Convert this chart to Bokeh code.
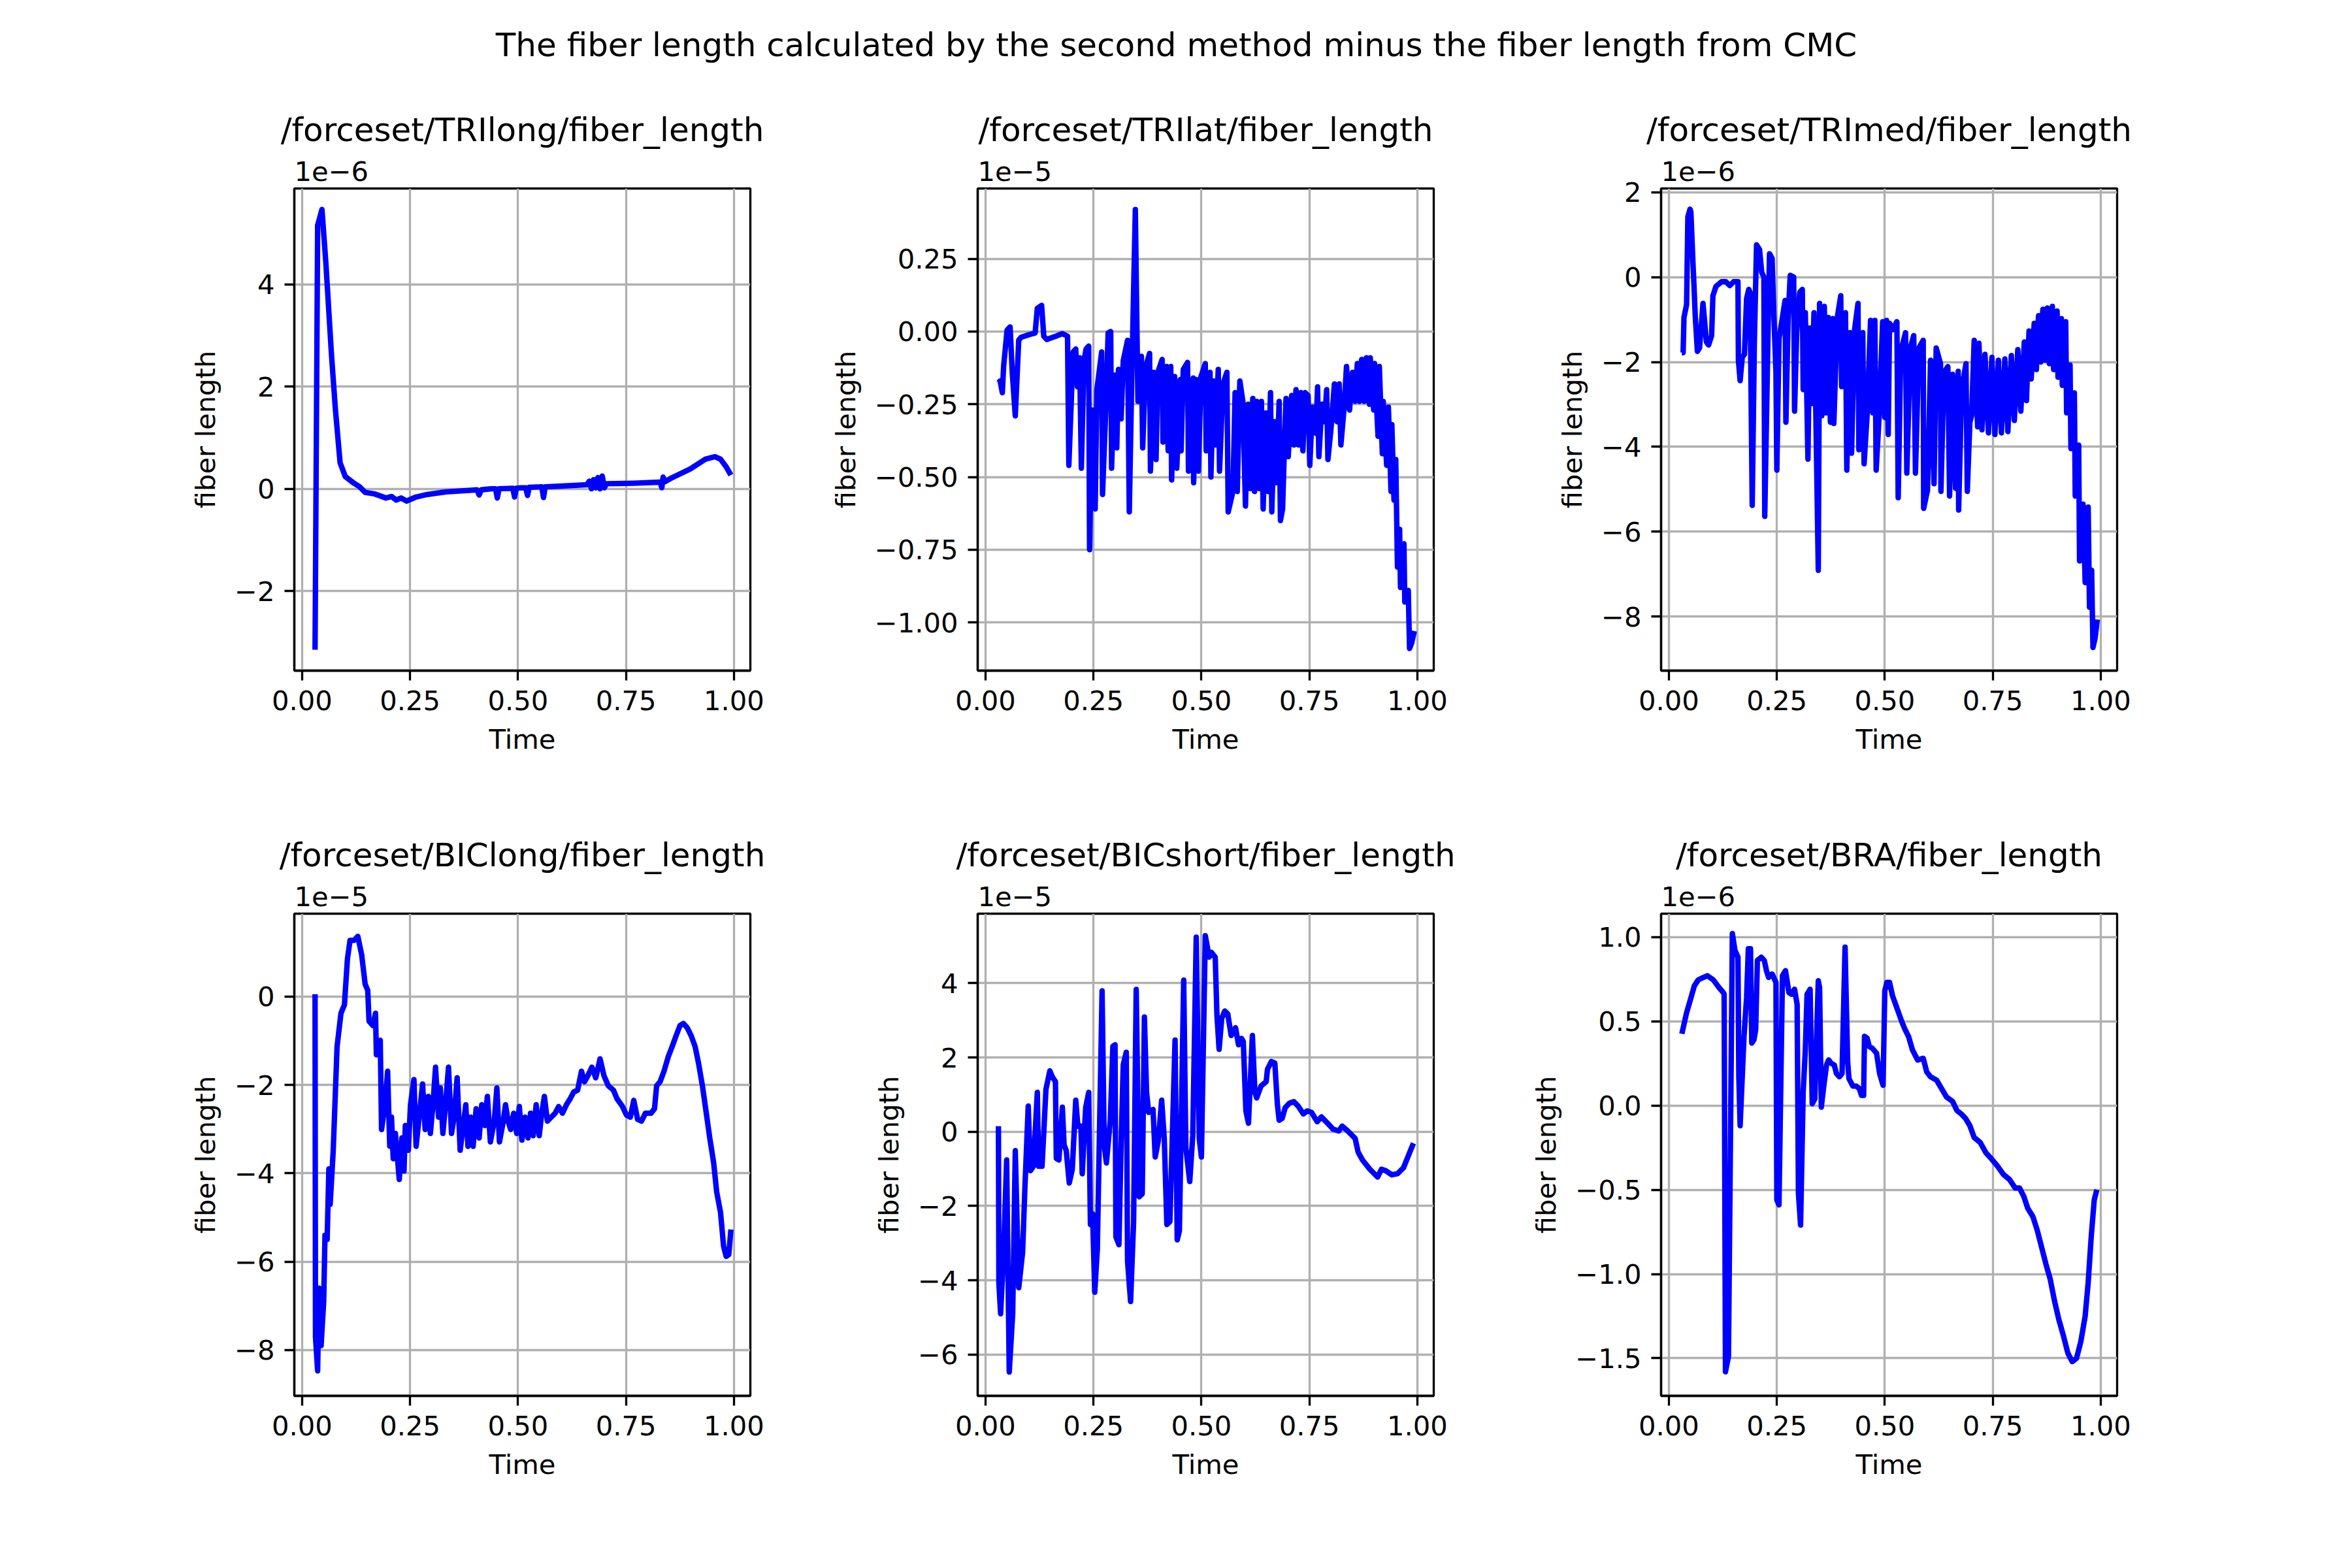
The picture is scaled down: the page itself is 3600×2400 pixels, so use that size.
from bokeh.plotting import figure
from bokeh.models import Label, Title, FixedTicker, Range1d, CustomJSTickFormatter
from bokeh.layouts import column, row
from bokeh.embed import file_html
from bokeh.resources import INLINE

SUPTITLE = "The fiber length calculated by the second method minus the fiber length from CMC"

# ---------------- data (values in units of the panel's scale) ----------------
tri_long_t = [0.030, 0.036, 0.046, 0.055, 0.068, 0.077, 0.088, 0.100, 0.120, 0.133, 0.146, 0.168, 0.194, 0.207,
              0.218, 0.229, 0.242, 0.264, 0.290, 0.333, 0.386, 0.405, 0.410, 0.415, 0.438, 0.448, 0.452, 0.456,
              0.488, 0.492, 0.496, 0.507, 0.518, 0.522, 0.526, 0.555, 0.559, 0.563, 0.594, 0.640, 0.660, 0.665,
              0.670, 0.675, 0.680, 0.685, 0.690, 0.695, 0.700, 0.705, 0.768, 0.829, 0.833, 0.836, 0.840, 0.855,
              0.899, 0.934, 0.956, 0.969, 0.982, 0.993]
tri_long_v = [-3.15, 5.16, 5.47, 4.43, 2.63, 1.57, 0.51, 0.24, 0.11, 0.04, -0.07, -0.10, -0.18, -0.15,
              -0.22, -0.18, -0.24, -0.16, -0.11, -0.06, -0.03, -0.02, -0.12, -0.02, 0.0, 0.0, -0.18, 0.0,
              0.01, -0.16, 0.01, 0.02, 0.02, -0.13, 0.03, 0.04, -0.17, 0.04, 0.05, 0.07, 0.08, 0.15,
              0.0, 0.18, 0.02, 0.22, 0.0, 0.25, 0.02, 0.10, 0.11, 0.13, 0.02, 0.23, 0.14, 0.21,
              0.39, 0.58, 0.63, 0.58, 0.43, 0.27]

tri_lat_t = [0.030, 0.034, 0.039, 0.042, 0.050, 0.057, 0.062, 0.069, 0.077, 0.082, 0.102, 0.115, 0.120, 0.130,
             0.135, 0.142, 0.163, 0.178, 0.190, 0.193, 0.203, 0.209, 0.213, 0.218, 0.222, 0.228, 0.233, 0.239,
             0.241, 0.247, 0.254, 0.258, 0.264, 0.269, 0.271, 0.279, 0.284, 0.290, 0.292, 0.299, 0.304, 0.308,
             0.314, 0.319, 0.329, 0.333, 0.339, 0.347, 0.353, 0.361, 0.364, 0.371, 0.380, 0.382, 0.389, 0.395,
             0.399, 0.409, 0.411, 0.419, 0.423, 0.429, 0.431, 0.438, 0.443, 0.451, 0.453, 0.458, 0.468, 0.470,
             0.475, 0.481, 0.482, 0.488, 0.493, 0.499, 0.509, 0.511, 0.520, 0.522, 0.528, 0.532, 0.539, 0.542,
             0.550, 0.559, 0.562, 0.573, 0.578, 0.583, 0.589, 0.596, 0.602, 0.608, 0.613, 0.619, 0.623, 0.628,
             0.634, 0.639, 0.643, 0.649, 0.654, 0.660, 0.663, 0.669, 0.674, 0.680, 0.683, 0.688, 0.693, 0.696,
             0.701, 0.709, 0.714, 0.719, 0.725, 0.730, 0.735, 0.740, 0.747, 0.751, 0.757, 0.765, 0.769, 0.772,
             0.779, 0.785, 0.790, 0.793, 0.800, 0.808, 0.814, 0.819, 0.823, 0.830, 0.836, 0.843, 0.850, 0.856,
             0.861, 0.866, 0.871, 0.877, 0.882, 0.889, 0.891, 0.899, 0.901, 0.909, 0.912, 0.919, 0.921, 0.929,
             0.933, 0.939, 0.941, 0.946, 0.950, 0.954, 0.959, 0.961, 0.969, 0.971, 0.979, 0.982, 0.987, 0.993]
tri_lat_v = [-0.176, -0.17, -0.21, -0.12, 0.005, 0.016, -0.14, -0.29, -0.03, -0.02, -0.01, -0.005, 0.08, 0.09,
             -0.016, -0.027, -0.016, -0.007, -0.016, -0.46, -0.07, -0.06, -0.19, -0.09, -0.47, -0.10, -0.06, -0.05,
             -0.75, -0.27, -0.61, -0.20, -0.13, -0.07, -0.56, -0.25, -0.005, 0.0, -0.47, -0.15, -0.40, -0.13,
             -0.30, -0.10, -0.03, -0.62, -0.14, 0.42, -0.24, -0.085, -0.40, -0.12, -0.075, -0.48, -0.14, -0.44,
             -0.14, -0.096, -0.38, -0.12, -0.41, -0.12, -0.51, -0.155, -0.47, -0.165, -0.41, -0.13, -0.106, -0.48,
             -0.335, -0.16, -0.52, -0.165, -0.48, -0.155, -0.11, -0.41, -0.14, -0.50, -0.17, -0.39, -0.13, -0.48,
             -0.18, -0.14, -0.62, -0.55, -0.21, -0.55, -0.17, -0.24, -0.60, -0.25, -0.54, -0.23, -0.55, -0.24,
             -0.54, -0.24, -0.61, -0.28, -0.55, -0.21, -0.62, -0.31, -0.52, -0.24, -0.65, -0.61, -0.36, -0.23,
             -0.43, -0.22, -0.39, -0.20, -0.39, -0.21, -0.41, -0.21, -0.22, -0.46, -0.26, -0.35, -0.19, -0.43,
             -0.25, -0.31, -0.20, -0.44, -0.335, -0.18, -0.31, -0.18, -0.39, -0.27, -0.12, -0.27, -0.14, -0.24,
             -0.11, -0.24, -0.096, -0.24, -0.09, -0.25, -0.09, -0.27, -0.11, -0.36, -0.12, -0.42, -0.24, -0.46,
             -0.26, -0.55, -0.32, -0.58, -0.44, -0.81, -0.68, -0.88, -0.73, -0.93, -0.89, -1.09, -1.07, -1.03]

tri_med_t = [0.030, 0.033, 0.035, 0.041, 0.044, 0.049, 0.051, 0.056, 0.058, 0.061, 0.066, 0.071, 0.079, 0.087,
             0.092, 0.099, 0.102, 0.109, 0.122, 0.132, 0.141, 0.150, 0.160, 0.161, 0.165, 0.170, 0.175, 0.180,
             0.185, 0.188, 0.193, 0.198, 0.203, 0.210, 0.215, 0.220, 0.222, 0.228, 0.233, 0.239, 0.243, 0.248,
             0.250, 0.255, 0.263, 0.269, 0.271, 0.276, 0.281, 0.289, 0.291, 0.296, 0.303, 0.309, 0.311, 0.316,
             0.322, 0.326, 0.331, 0.336, 0.340, 0.346, 0.349, 0.354, 0.360, 0.364, 0.369, 0.374, 0.379, 0.382,
             0.390, 0.398, 0.400, 0.409, 0.412, 0.419, 0.423, 0.430, 0.438, 0.440, 0.449, 0.452, 0.459, 0.467,
             0.472, 0.477, 0.480, 0.487, 0.495, 0.500, 0.504, 0.508, 0.511, 0.518, 0.528, 0.531, 0.537, 0.548,
             0.551, 0.559, 0.567, 0.571, 0.579, 0.589, 0.590, 0.599, 0.606, 0.614, 0.619, 0.629, 0.630, 0.637,
             0.646, 0.650, 0.657, 0.664, 0.670, 0.671, 0.678, 0.688, 0.691, 0.697, 0.701, 0.707, 0.715, 0.718,
             0.725, 0.732, 0.740, 0.748, 0.755, 0.763, 0.770, 0.778, 0.785, 0.793, 0.800, 0.808, 0.815, 0.823,
             0.828, 0.834, 0.839, 0.846, 0.851, 0.856, 0.861, 0.866, 0.871, 0.876, 0.881, 0.888, 0.891, 0.899,
             0.901, 0.909, 0.911, 0.919, 0.921, 0.929, 0.931, 0.939, 0.941, 0.949, 0.951, 0.959, 0.964, 0.971,
             0.974, 0.979, 0.982, 0.987, 0.992]
tri_med_v = [-1.78, -1.78, -0.95, -0.65, 1.42, 1.60, 1.53, 0.29, -0.15, -0.9, -1.75, -1.67, -0.62, -1.53,
             -1.60, -1.38, -0.44, -0.22, -0.11, -0.11, -0.20, -0.11, -0.11, -1.96, -2.44, -1.89, -1.82, -0.51,
             -0.29, -0.36, -5.38, -1.53, 0.76, 0.65, 0.11, 0.0, -5.64, -2.25, 0.55, 0.44, -0.87, -2.25,
             -4.55, -1.45, -0.95, -0.55, -3.42, -1.02, 0.04, 0.0, -3.16, -1.31, -0.36, -0.29, -2.65, -0.84,
             -4.29, -1.20, -2.98, -0.84, -2.98, -6.91, -0.62, -3.27, -0.69, -3.2, -0.95, -3.42, -0.98, -3.45,
             -0.95, -0.44, -2.58, -0.84, -4.55, -1.31, -4.15, -1.24, -0.62, -4.07, -1.31, -4.4, -3.27, -1.02,
             -3.2, -1.02, -4.55, -3.27, -1.05, -3.31, -1.02, -3.71, -1.09, -1.24, -1.05, -5.2, -1.75, -1.31,
             -4.62, -1.67, -1.38, -4.62, -1.67, -1.49, -5.45, -5.02, -1.96, -4.87, -1.67, -2.04, -5.05, -2.25,
             -2.11, -5.16, -2.29, -4.98, -2.22, -5.49, -2.65, -2.04, -5.05, -3.42, -3.27, -1.49, -3.53, -1.56,
             -3.6, -1.82, -3.67, -1.89, -3.71, -1.96, -3.67, -1.93, -3.64, -1.85, -3.38, -1.71, -3.16, -1.53,
             -2.91, -1.27, -2.4, -1.09, -2.18, -0.91, -2.0, -0.76, -1.96, -0.73, -2.04, -0.69, -2.18, -0.80,
             -2.36, -0.98, -2.55, -1.05, -3.2, -2.07, -4.04, -2.73, -5.16, -3.96, -6.69, -5.35, -7.2, -5.42,
             -7.78, -6.91, -8.73, -8.51, -8.07]

bic_long_t = [0.030, 0.031, 0.036, 0.039, 0.044, 0.050, 0.053, 0.058, 0.062, 0.065, 0.072, 0.081, 0.090, 0.098,
              0.105, 0.111, 0.120, 0.129, 0.138, 0.146, 0.152, 0.155, 0.164, 0.170, 0.172, 0.181, 0.184, 0.192,
              0.198, 0.203, 0.207, 0.211, 0.216, 0.225, 0.231, 0.236, 0.239, 0.246, 0.251, 0.259, 0.264, 0.272,
              0.279, 0.285, 0.292, 0.297, 0.303, 0.309, 0.316, 0.320, 0.326, 0.333, 0.339, 0.346, 0.352, 0.359,
              0.366, 0.372, 0.379, 0.384, 0.390, 0.396, 0.403, 0.410, 0.416, 0.423, 0.429, 0.436, 0.445, 0.451,
              0.457, 0.466, 0.471, 0.477, 0.483, 0.490, 0.497, 0.503, 0.509, 0.516, 0.523, 0.529, 0.535, 0.542,
              0.549, 0.555, 0.561, 0.568, 0.577, 0.586, 0.594, 0.603, 0.612, 0.621, 0.629, 0.638, 0.647, 0.654,
              0.662, 0.671, 0.680, 0.690, 0.699, 0.709, 0.721, 0.729, 0.742, 0.751, 0.760, 0.768, 0.777, 0.786,
              0.795, 0.808, 0.816, 0.821, 0.829, 0.838, 0.848, 0.857, 0.866, 0.875, 0.883, 0.892, 0.901, 0.910,
              0.918, 0.927, 0.936, 0.944, 0.953, 0.960, 0.969, 0.976, 0.982, 0.988, 0.993]
bic_long_v = [0.05, -7.7, -8.47, -6.6, -7.9, -6.9, -5.4, -5.5, -3.9, -4.7, -3.5, -1.13, -0.38, -0.19,
              0.85, 1.27, 1.27, 1.36, 0.94, 0.28, 0.14, -0.56, -0.66, -0.38, -1.32, -0.99, -3.01, -2.45,
              -1.69, -3.39, -2.73, -3.67, -3.1, -4.14, -3.2, -3.95, -2.92, -3.48, -2.45, -1.88, -3.39, -2.64,
              -1.98, -3.01, -2.26, -3.1, -2.45, -1.6, -2.73, -2.07, -3.1, -2.35, -1.6, -3.1, -2.73, -1.84,
              -3.48, -3.01, -2.45, -3.39, -2.73, -3.39, -2.54, -3.2, -2.45, -2.92, -2.26, -3.29, -2.82, -2.07,
              -3.29, -2.82, -2.45, -2.82, -3.01, -2.64, -3.1, -2.49, -3.25, -2.73, -3.2, -2.64, -3.15, -2.45,
              -3.15, -2.64, -2.26, -2.82, -2.73, -2.64, -2.49, -2.64, -2.45, -2.31, -2.16, -2.12, -1.69, -1.93,
              -1.79, -1.6, -1.84, -1.41, -1.79, -2.02, -2.12, -2.31, -2.49, -2.68, -2.73, -2.35, -2.78, -2.82,
              -2.64, -2.64, -2.54, -2.02, -1.93, -1.69, -1.36, -1.13, -0.89, -0.66, -0.61, -0.71, -0.89, -1.13,
              -1.51, -2.02, -2.64, -3.2, -3.76, -4.42, -4.89, -5.65, -5.88, -5.84, -5.27]

bic_short_t = [0.030, 0.031, 0.035, 0.042, 0.049, 0.055, 0.063, 0.069, 0.077, 0.086, 0.091, 0.099, 0.104, 0.111,
               0.120, 0.123, 0.131, 0.140, 0.149, 0.155, 0.162, 0.164, 0.170, 0.178, 0.182, 0.187, 0.194, 0.201,
               0.209, 0.214, 0.221, 0.224, 0.232, 0.239, 0.243, 0.248, 0.253, 0.259, 0.270, 0.275, 0.280, 0.289,
               0.295, 0.300, 0.302, 0.309, 0.314, 0.319, 0.326, 0.329, 0.336, 0.343, 0.349, 0.356, 0.363, 0.368,
               0.373, 0.378, 0.388, 0.393, 0.400, 0.408, 0.414, 0.420, 0.427, 0.439, 0.444, 0.449, 0.459, 0.464,
               0.473, 0.480, 0.488, 0.495, 0.500, 0.509, 0.518, 0.523, 0.532, 0.536, 0.541, 0.547, 0.554, 0.561,
               0.569, 0.579, 0.586, 0.593, 0.597, 0.603, 0.609, 0.618, 0.624, 0.628, 0.638, 0.650, 0.653, 0.662,
               0.670, 0.676, 0.680, 0.687, 0.694, 0.704, 0.714, 0.724, 0.736, 0.745, 0.755, 0.768, 0.778, 0.792,
               0.805, 0.818, 0.826, 0.839, 0.856, 0.863, 0.873, 0.890, 0.908, 0.917, 0.927, 0.941, 0.954, 0.968,
               0.978, 0.991]
bic_short_v = [0.15, -4.07, -4.9, -3.24, -0.76, -6.47, -4.9, -0.51, -4.2, -3.24, -1.59, 0.69, -1.05, -0.93,
               1.06, -0.93, -0.93, 1.14, 1.64, 1.47, 1.35, -0.72, -0.76, 0.66, -0.35, -0.51, -1.38, -1.01,
               0.85, 0.15, 0.15, -1.13, 0.65, 1.06, -2.5, -2.21, -4.32, -3.16, 3.79, -0.35, -0.84, 0.31,
               2.3, 2.34, -2.83, -3.04, -0.35, 1.8, 2.14, -3.49, -4.57, -2.42, 3.83, -1.75, -1.67, 3.09,
               1.06, 0.52, 0.60, -0.68, -0.26, 0.85, -0.18, -2.5, -2.42, 2.47, -2.91, -2.67, 4.08, -0.43,
               -1.34, -0.1, 5.24, -0.18, -0.68, 5.28, 4.7, 4.83, 4.7, 3.13, 2.22, 3.05, 3.25, 3.17,
               2.59, 2.8, 2.34, 2.51, 2.43, 0.56, 0.23, 2.59, 1.06, 0.91, 1.23, 1.35, 1.68, 1.89,
               1.85, 0.73, 0.31, 0.36, 0.65, 0.77, 0.81, 0.69, 0.48, 0.56, 0.52, 0.27, 0.40, 0.23,
               0.07, 0.02, 0.15, 0.02, -0.18, -0.55, -0.76, -1.01, -1.22, -1.01, -1.05, -1.16, -1.13, -0.97,
               -0.68, -0.31]

bra_t = [0.030, 0.034, 0.041, 0.049, 0.059, 0.068, 0.076, 0.089, 0.103, 0.116, 0.126, 0.128, 0.131, 0.138,
         0.147, 0.153, 0.160, 0.162, 0.165, 0.174, 0.180, 0.184, 0.189, 0.192, 0.197, 0.201, 0.205, 0.214,
         0.221, 0.226, 0.231, 0.239, 0.248, 0.250, 0.255, 0.263, 0.270, 0.278, 0.284, 0.291, 0.297, 0.300,
         0.305, 0.311, 0.316, 0.320, 0.327, 0.332, 0.338, 0.346, 0.349, 0.353, 0.358, 0.365, 0.370, 0.376,
         0.383, 0.388, 0.395, 0.401, 0.408, 0.414, 0.417, 0.426, 0.434, 0.441, 0.446, 0.451, 0.453, 0.459,
         0.464, 0.471, 0.481, 0.488, 0.496, 0.500, 0.505, 0.511, 0.518, 0.525, 0.532, 0.539, 0.547, 0.555,
         0.564, 0.576, 0.589, 0.597, 0.606, 0.620, 0.630, 0.643, 0.657, 0.667, 0.677, 0.687, 0.697, 0.707,
         0.721, 0.734, 0.748, 0.761, 0.775, 0.789, 0.802, 0.812, 0.822, 0.831, 0.843, 0.853, 0.863, 0.873,
         0.883, 0.893, 0.903, 0.914, 0.924, 0.934, 0.944, 0.954, 0.964, 0.971, 0.978, 0.985, 0.991]
bra_v = [0.425, 0.47, 0.55, 0.62, 0.71, 0.745, 0.755, 0.77, 0.745, 0.70, 0.67, 0.66, -1.58, -1.49,
         1.02, 0.92, 0.88, 0.17, -0.12, 0.41, 0.64, 0.93, 0.93, 0.37, 0.39, 0.45, 0.86, 0.88,
         0.86, 0.80, 0.76, 0.78, 0.73, -0.56, -0.59, 0.77, 0.80, 0.67, 0.66, 0.69, 0.60, -0.52,
         -0.71, 0.08, 0.33, 0.66, 0.69, 0.01, 0.04, 0.74, 0.70, -0.01, 0.10, 0.24, 0.27, 0.25,
         0.24, 0.19, 0.17, 0.19, 0.94, 0.26, 0.16, 0.115, 0.115, 0.10, 0.06, 0.06, 0.41, 0.40,
         0.35, 0.34, 0.31, 0.19, 0.12, 0.68, 0.73, 0.73, 0.65, 0.60, 0.55, 0.50, 0.45, 0.41,
         0.33, 0.27, 0.28, 0.20, 0.17, 0.15, 0.106, 0.05, 0.024, -0.03, -0.05, -0.077, -0.12, -0.19,
         -0.22, -0.28, -0.32, -0.36, -0.41, -0.44, -0.49, -0.49, -0.54, -0.61, -0.66, -0.74, -0.84, -0.94,
         -1.03, -1.16, -1.27, -1.37, -1.47, -1.52, -1.50, -1.40, -1.25, -1.05, -0.78, -0.56, -0.50]

titles = ["/forceset/TRIlong/fiber_length", "/forceset/TRIlat/fiber_length", "/forceset/TRImed/fiber_length",
          "/forceset/BIClong/fiber_length", "/forceset/BICshort/fiber_length", "/forceset/BRA/fiber_length"]
scale_texts = ["1e\u22126", "1e\u22125", "1e\u22126", "1e\u22125", "1e\u22125", "1e\u22126"]

x_ticks = [0.0, 0.25, 0.5, 0.75, 1.0]
x_tick_labels = ["0.00", "0.25", "0.50", "0.75", "1.00"]

y_ticks = [[-2, 0, 2, 4],
           [-1.0, -0.75, -0.5, -0.25, 0.0, 0.25],
           [-8, -6, -4, -2, 0, 2],
           [-8, -6, -4, -2, 0],
           [-6, -4, -2, 0, 2, 4],
           [-1.5, -1.0, -0.5, 0.0, 0.5, 1.0]]
y_tick_labels = [["\u22122", "0", "2", "4"],
                 ["\u22121.00", "\u22120.75", "\u22120.50", "\u22120.25", "0.00", "0.25"],
                 ["\u22128", "\u22126", "\u22124", "\u22122", "0", "2"],
                 ["\u22128", "\u22126", "\u22124", "\u22122", "0"],
                 ["\u22126", "\u22124", "\u22122", "0", "2", "4"],
                 ["\u22121.5", "\u22121.0", "\u22120.5", "0.0", "0.5", "1.0"]]

series_t = [tri_long_t, tri_lat_t, tri_med_t, bic_long_t, bic_short_t, bra_t]
series_v = [tri_long_v, tri_lat_v, tri_med_v, bic_long_v, bic_short_v, bra_v]

# ---------------- styling / layout ----------------
X_RANGE = (-0.018, 1.038)
Y_RANGES = [(-3.56, 5.88), (-1.166, 0.492), (-9.275, 2.088), (-9.035, 1.873), (-7.11, 5.87), (-1.723, 1.138)]
FONT = "DejaVu Sans"
TICK_FS = "41.7px"
TITLE_FS = "50px"
LW = 3.33
FW, FH = 698, 738
BORDERS_LR = [(450, 102), (246, 106), (242, 350)]
BORDERS_TB = [(160, 174), (198, 254)]
HEAD_W, HEAD_H = 3590, 128


def tick_formatter(tick_values, tick_texts):
    return CustomJSTickFormatter(args=dict(tvals=tick_values, ttexts=tick_texts), code="""
        for (let i = 0; i < tvals.length; i++) {
            if (Math.abs(tvals[i] - tick) < 1e-9) { return ttexts[i]; }
        }
        return '';
    """)


def make_panel(i):
    r, c = divmod(i, 3)
    bl, br = BORDERS_LR[c]
    bt, bb = BORDERS_TB[r]
    y0, y1 = Y_RANGES[i]
    p = figure(frame_width=FW, frame_height=FH, min_border_left=bl, min_border_right=br,
               min_border_top=bt, min_border_bottom=bb, x_range=Range1d(*X_RANGE),
               y_range=Range1d(y0, y1), toolbar_location=None, output_backend="svg", title=None)
    p.background_fill_color = "white"
    p.border_fill_color = "white"
    p.outline_line_color = "black"
    p.outline_line_width = LW
    p.line(series_t[i], series_v[i], line_color="#0000ff", line_width=8.33, line_join="round")

    p.xaxis.ticker = FixedTicker(ticks=x_ticks)
    p.xaxis.formatter = tick_formatter(x_ticks, x_tick_labels)
    p.yaxis.ticker = FixedTicker(ticks=y_ticks[i])
    p.yaxis.formatter = tick_formatter(y_ticks[i], y_tick_labels[i])
    p.xaxis.axis_label = "Time"
    p.yaxis.axis_label = "fiber length"
    for ax in (p.xaxis[0], p.yaxis[0]):
        ax.axis_line_color = "black"
        ax.axis_line_width = LW
        ax.major_tick_line_color = "black"
        ax.major_tick_line_width = LW
        ax.major_tick_out = 15
        ax.major_tick_in = 0
        ax.minor_tick_line_color = None
        ax.major_label_text_font = FONT
        ax.major_label_text_font_size = TICK_FS
        ax.major_label_text_color = "black"
        ax.major_label_standoff = 15
        ax.axis_label_text_font = FONT
        ax.axis_label_text_font_size = TICK_FS
        ax.axis_label_text_font_style = "normal"
        ax.axis_label_text_color = "black"
        ax.axis_label_standoff = 17
    p.grid.grid_line_color = "#b0b0b0"
    p.grid.grid_line_width = LW

    # offset text (closest to the frame) then the panel title above it
    p.add_layout(Title(text=scale_texts[i], align="left", text_font=FONT, text_font_size=TICK_FS,
                       text_font_style="normal", text_color="black", standoff=23, offset=0), "above")
    p.add_layout(Title(text=titles[i], align="center", text_font=FONT, text_font_size=TITLE_FS,
                       text_font_style="normal", text_color="black", standoff=12), "above")
    return p


panels = [make_panel(i) for i in range(6)]

head = figure(width=HEAD_W, height=HEAD_H, x_range=Range1d(0, 1), y_range=Range1d(0, 1),
              x_axis_type=None, y_axis_type=None, toolbar_location=None, output_backend="svg",
              min_border=0, title=None)
head.outline_line_color = None
head.background_fill_color = "white"
head.border_fill_color = "white"
head.add_layout(Label(x=1800 / HEAD_W, y=1 - 68 / HEAD_H, text=SUPTITLE, text_align="center",
                      text_baseline="alphabetic", text_font=FONT, text_font_size=TITLE_FS,
                      text_color="black"))

layout = column(head, row(*panels[:3]), row(*panels[3:]))
open("out.html", "w").write(file_html(layout, INLINE))
